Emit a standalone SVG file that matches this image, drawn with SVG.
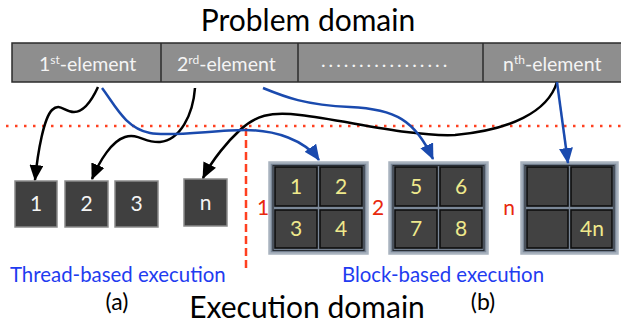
<svg xmlns="http://www.w3.org/2000/svg" width="621" height="330" viewBox="0 0 621 330">
  <defs>
    <marker id="ahBlack" markerUnits="userSpaceOnUse" markerWidth="16" markerHeight="14" viewBox="0 0 16 14" refX="15" refY="7" orient="auto">
      <path d="M0,0 L16,7 L0,14 Z" fill="#000"/>
    </marker>
    <marker id="ahBlue" markerUnits="userSpaceOnUse" markerWidth="16" markerHeight="14" viewBox="0 0 16 14" refX="15" refY="7" orient="auto">
      <path d="M0,0 L16,7 L0,14 Z" fill="#1a4aae"/>
    </marker>
    <style>
      text { font-family: Lato, "Open Sans", "Liberation Sans", sans-serif; }
      .title { fill: #000; text-anchor: middle; font-size: 30px; }
      .bar { fill: #8e8e8e; stroke: #2b2b2b; stroke-width: 1.5; }
      .barTxt { font-size: 19.5px; fill: #f4f4f4; }
      .sup { font-size: 12px; }
      .thread rect { fill: #404040; stroke: #8a8a8a; stroke-width: 1.5; }
      .thread text { font-size: 21px; fill: #f4f4f4; text-anchor: middle; }
      .frame { fill: #7b8898; stroke: #a8b2be; stroke-width: 2.5; }
      .inner { fill: none; stroke: #2a2f36; stroke-width: 1.2; }
      .cell { fill: #424242; stroke: #0e0e0e; stroke-width: 1.6; }
      .cellTxt { font-size: 21px; fill: #efe98c; text-anchor: middle; }
      .blkLbl { font-size: 21px; fill: #e8280c; text-anchor: middle; }
      .caption { font-size: 20.4px; fill: #1f3cf0; }
      .sub { font-size: 23px; fill: #000; text-anchor: middle; }
      .blk { fill: none; stroke: #000; stroke-width: 2.5; marker-end: url(#ahBlack); }
      .blu { fill: none; stroke: #1a4aae; stroke-width: 2.5; marker-end: url(#ahBlue); }
    </style>
  </defs>

  <rect width="621" height="330" fill="#fff"/>

  <text class="title" x="308" y="31">Problem domain</text>

  <!-- problem domain element strip -->
  <g id="problem-strip">
    <rect class="bar" x="12" y="43" width="615" height="39"/>
    <line x1="161" y1="43" x2="161" y2="82" stroke="#2b2b2b" stroke-width="1.5"/>
    <line x1="298" y1="43" x2="298" y2="82" stroke="#2b2b2b" stroke-width="1.5"/>
    <line x1="483" y1="43" x2="483" y2="82" stroke="#2b2b2b" stroke-width="1.5"/>
  </g>
  <g id="el-1"><text class="barTxt" x="39" y="71">1<tspan class="sup" dy="-7">st</tspan><tspan dy="7">-element</tspan></text></g>
  <g id="el-2"><text class="barTxt" x="177" y="71">2<tspan class="sup" dy="-7">rd</tspan><tspan dy="7">-element</tspan></text></g>
  <g id="el-dots"><text class="barTxt" x="321" y="67" letter-spacing="3">.................</text></g>
  <g id="el-n"><text class="barTxt" x="503" y="71">n<tspan class="sup" dy="-7">th</tspan><tspan dy="7">-element</tspan></text></g>

  <!-- domain separators -->
  <line x1="6" y1="126" x2="621" y2="126" stroke="#ff4020" stroke-width="2.5" stroke-dasharray="2.5 6.5"/>
  <line x1="246" y1="128" x2="246" y2="268" stroke="#ff4020" stroke-width="2.5" stroke-dasharray="8 4"/>

  <!-- thread-based execution -->
  <g id="thread-1" class="thread"><rect x="15" y="181" width="42" height="46"/><text x="36" y="211">1</text></g>
  <g id="thread-2" class="thread"><rect x="65" y="181" width="43" height="46"/><text x="86.5" y="211">2</text></g>
  <g id="thread-3" class="thread"><rect x="115" y="181" width="43" height="46"/><text x="136.5" y="211">3</text></g>
  <g id="thread-n" class="thread"><rect x="184" y="179" width="43" height="47"/><text x="205.5" y="210">n</text></g>

  <!-- block-based execution -->
  <g id="block-1">
    <text class="blkLbl" x="263" y="215">1</text>
    <rect class="frame" x="269.5" y="162.5" width="98" height="91"/>
    <rect class="inner" x="273" y="165.5" width="91" height="85"/>
    <rect class="cell" x="275" y="167" width="42" height="39"/>
    <rect class="cell" x="320" y="167" width="42" height="39"/>
    <rect class="cell" x="275" y="210" width="42" height="38"/>
    <rect class="cell" x="320" y="210" width="42" height="38"/>
    <text class="cellTxt" x="296" y="194">1</text>
    <text class="cellTxt" x="341" y="194">2</text>
    <text class="cellTxt" x="296" y="236">3</text>
    <text class="cellTxt" x="341" y="236">4</text>
  </g>
  <g id="block-2">
    <text class="blkLbl" x="378" y="215">2</text>
    <rect class="frame" x="389.5" y="162.5" width="98" height="91"/>
    <rect class="inner" x="393" y="165.5" width="91" height="85"/>
    <rect class="cell" x="395" y="167" width="42" height="39"/>
    <rect class="cell" x="440" y="167" width="42" height="39"/>
    <rect class="cell" x="395" y="210" width="42" height="38"/>
    <rect class="cell" x="440" y="210" width="42" height="38"/>
    <text class="cellTxt" x="416" y="194">5</text>
    <text class="cellTxt" x="461" y="194">6</text>
    <text class="cellTxt" x="416" y="236">7</text>
    <text class="cellTxt" x="461" y="236">8</text>
  </g>
  <g id="block-n">
    <text class="blkLbl" x="509" y="215">n</text>
    <rect class="frame" x="521.5" y="162.5" width="96" height="91"/>
    <rect class="inner" x="525" y="165.5" width="89" height="85"/>
    <rect class="cell" x="527" y="167" width="41" height="39"/>
    <rect class="cell" x="571" y="167" width="41" height="39"/>
    <rect class="cell" x="527" y="210" width="41" height="38"/>
    <rect class="cell" x="571" y="210" width="41" height="38"/>
    <text class="cellTxt" x="592" y="236">4n</text>
  </g>

  <!-- mappings from elements to execution units -->
  <g id="connectors">
    <path class="blk" d="M98,87 C92,100 84,112 74,112 C64,112 60,102 52,110 C44,118 38,150 35,180"/>
    <path class="blk" d="M195,88 C193,115 180,140 160,142 C145,143 138,133 125,137 C112,141 100,160 92,179"/>
    <path class="blk" d="M557,82 C548,112 510,130 455,135 C410,137 345,120 300,115 C270,111 255,116 240,130 C228,141 212,160 203,178"/>
    <path class="blu" d="M102,88 C115,105 125,128 150,133 C170,137 215,130 245,130 C275,130 305,140 319,160"/>
    <path class="blu" d="M263,88 C285,97 305,105 350,107 C395,109 415,120 433,159"/>
    <path class="blu" d="M557,82 L568,163"/>
  </g>

  <text class="caption" x="10" y="282">Thread-based execution</text>
  <text class="caption" x="342" y="282">Block-based execution</text>
  <text class="sub" x="117" y="310">(a)</text>
  <text class="sub" x="483" y="310">(b)</text>
  <text class="title" x="307" y="318">Execution domain</text>
</svg>
